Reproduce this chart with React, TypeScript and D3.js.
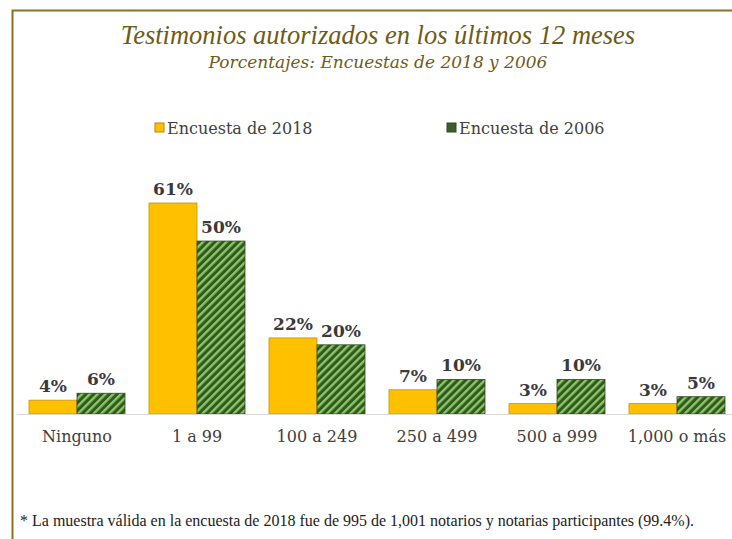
import { useEffect, useRef } from 'react'
import * as d3 from 'd3'

const categories = ['Ninguno', '1 a 99', '100 a 249', '250 a 499', '500 a 999', '1,000 o más']
const series = ['Encuesta de 2018', 'Encuesta de 2006']
const values2018 = [4, 61, 22, 7, 3, 3]
const values2006 = [6, 50, 20, 10, 10, 5]

const title = 'Testimonios autorizados en los últimos 12 meses'
const subtitle = 'Porcentajes: Encuestas de 2018 y 2006'
const footnote = '* La muestra válida en la encuesta de 2018 fue de 995 de 1,001 notarios y notarias participantes (99.4%).'

const W = 732
const H = 539
const serif = '"Liberation Serif", "DejaVu Serif", serif'
const wide = '"DejaVu Serif", serif'

export default function App() {
  const svgRef = useRef<SVGSVGElement>(null)

  useEffect(() => {
    if (!svgRef.current) return
    const svg = d3.select(svgRef.current)
    svg.selectAll('*').remove()

    // hatch pattern for 2006
    const defs = svg.append('defs')
    const pat = defs.append('pattern')
      .attr('id', 'hatch')
      .attr('patternUnits', 'userSpaceOnUse')
      .attr('width', 5.5).attr('height', 5.5)
      .attr('patternTransform', 'rotate(45)')
    pat.append('rect').attr('width', 5.5).attr('height', 5.5).attr('fill', '#2e5a1c')
    pat.append('rect').attr('width', 2.4).attr('height', 5.5).attr('fill', '#8fc46c')

    // frame
    svg.append('path')
      .attr('d', `M12.5,${H} L12.5,10.5 L${W},10.5`)
      .attr('fill', 'none').attr('stroke', '#8a7226').attr('stroke-width', 2)

    svg.append('text')
      .attr('x', 378).attr('y', 44)
      .attr('text-anchor', 'middle')
      .attr('fill', '#6e5b17')
      .style('font-family', serif).style('font-style', 'italic')
      .style('font-size', '26.5px')
      .text(title)

    svg.append('text')
      .attr('x', 378).attr('y', 68)
      .attr('text-anchor', 'middle')
      .attr('fill', '#6e5b17')
      .style('font-family', wide).style('font-style', 'italic')
      .style('font-size', '17px')
      .text(subtitle)

    // legend
    const legendX = [155, 447]
    const legendFill = ['#ffc000', '#3b5e2a']
    const legendStroke = ['#b58a00', '#2e4a1c']
    series.forEach((s, i) => {
      svg.append('rect')
        .attr('x', legendX[i]).attr('y', 123)
        .attr('width', 9).attr('height', 9)
        .attr('fill', legendFill[i])
        .attr('stroke', legendStroke[i]).attr('stroke-width', 1)
      svg.append('text')
        .attr('x', legendX[i] + 12).attr('y', 134)
        .attr('fill', '#404040')
        .style('font-family', wide).style('font-size', '16px')
        .text(s)
    })

    const baseline = 414
    const x = d3.scaleBand<string>()
      .domain(categories)
      .range([17, 737])
      .paddingInner(0.2)
      .paddingOuter(0.1)
    const xs = d3.scaleBand<string>()
      .domain(series)
      .range([0, x.bandwidth()])
    const y = d3.scaleLinear().domain([0, 61]).range([baseline, 203])

    const g = svg.append('g')

    const data = categories.flatMap((c, i) => [
      { c, s: series[0], v: values2018[i] },
      { c, s: series[1], v: values2006[i] },
    ])

    g.selectAll('rect.bar')
      .data(data)
      .join('rect')
      .attr('class', 'bar')
      .attr('x', d => (x(d.c) ?? 0) + (xs(d.s) ?? 0))
      .attr('y', d => y(d.v))
      .attr('width', xs.bandwidth())
      .attr('height', d => baseline - y(d.v))
      .attr('fill', d => (d.s === series[0] ? '#ffc000' : 'url(#hatch)'))
      .attr('stroke', d => (d.s === series[0] ? '#c49400' : '#2e4a1c'))
      .attr('stroke-width', 0.8)

    g.selectAll('text.val')
      .data(data)
      .join('text')
      .attr('class', 'val')
      .attr('x', d => (x(d.c) ?? 0) + (xs(d.s) ?? 0) + xs.bandwidth() / 2)
      .attr('y', d => y(d.v) - 8)
      .attr('text-anchor', 'middle')
      .attr('fill', '#3a3a3a')
      .style('font-family', wide).style('font-weight', 'bold')
      .style('font-size', '17px')
      .text(d => `${d.v}%`)

    g.append('line')
      .attr('x1', 17).attr('x2', 737)
      .attr('y1', baseline + 0.5).attr('y2', baseline + 0.5)
      .attr('stroke', '#d9d9d9').attr('stroke-width', 1)

    const axis = d3.axisBottom(x).tickSize(0).tickPadding(17)
    const ax = svg.append('g')
      .attr('transform', `translate(0,${baseline})`)
      .call(axis)
    ax.select('.domain').remove()
    ax.selectAll('text')
      .attr('fill', '#404040')
      .style('font-family', wide)
      .style('font-size', '16px')

    svg.append('text')
      .attr('x', 20).attr('y', 526)
      .attr('fill', '#222')
      .style('font-family', serif).style('font-size', '16px')
      .text(footnote)
  }, [])

  return (
    <div style={{ position: 'fixed', left: 0, top: 0, width: W, height: H, background: '#fff' }}>
      <svg ref={svgRef} width={W} height={H} style={{ display: 'block' }} />
    </div>
  )
}
